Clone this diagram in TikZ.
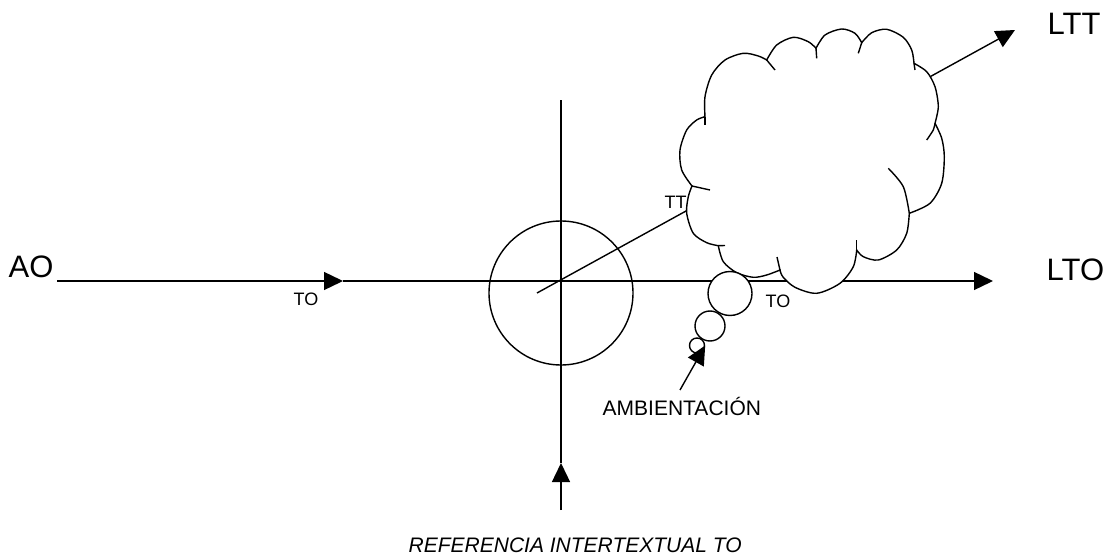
\documentclass[tikz,border=0pt]{standalone}
\usepackage{fontspec}
\setmainfont{Liberation Sans}
\usetikzlibrary{arrows.meta}

\begin{document}
\begin{tikzpicture}[
  x=0.5pt, y=0.5pt, line width=0.7pt,
  tag/.style={anchor=base west, inner sep=0pt, font=\fontsize{9}{11}\selectfont},
  bigtag/.style={tag, font=\fontsize{15.5}{18}\selectfont},
  note/.style={tag, font=\fontsize{10.5}{12}\selectfont},
  ring/.style={circle, draw, fill=white, inner sep=0pt},
  arr/.style={-{Triangle[length=9.5pt, width=9pt]}}
]
\useasboundingbox (0,0) rectangle (1115,-556);
\coordinate (h0) at (57,-281);
\coordinate (h1) at (343,-281);
\coordinate (h2) at (993,-281);
\coordinate (v0) at (561,-510);
\coordinate (v1) at (561,-463);
\coordinate (v2) at (561,-100);
\coordinate (s0) at (537,-293);
\coordinate (s1) at (1015,-30);
\draw[arr] (h0) -- (h1);
\draw[arr] (h1) -- (h2);
\draw[arr] (v0) -- (v1);
\draw (v1) -- (v2);
\draw[arr] (s0) -- (s1);
\node[circle, draw, inner sep=0pt, minimum size=72pt] (hub) at (561,-293) {};
\filldraw[fill=white]
  plot[smooth] coordinates {(705,-116.7) (705,-96.7) (711.7,-75) (725,-60) (743.3,-53.3) (758.3,-56) (766.7,-60)}
  -- plot[smooth] coordinates {(766.7,-60) (776.7,-45) (793.3,-37.3) (808.3,-41.7) (816,-48.3)}
  -- plot[smooth] coordinates {(816,-48.3) (825,-35) (841.7,-29) (855,-33.3) (861.7,-42.7)}
  -- plot[smooth] coordinates {(861.7,-42.7) (871.7,-32.7) (886.7,-29.3) (903.3,-37.3) (911.7,-50) (914,-63.3)}
  -- plot[smooth] coordinates {(914,-63.3) (926.7,-71.7) (935,-86.7) (938.3,-106.7) (935,-123.3)}
  -- plot[smooth] coordinates {(935,-123.3) (941.7,-138.3) (944.3,-156.7) (941.7,-183.3) (930,-203.3) (909.3,-213.3)}
  -- plot[smooth] coordinates {(909.3,-213.3) (906.7,-233.3) (896.7,-250) (878.3,-260) (863.3,-256.7) (856.7,-250)}
  -- plot[smooth] coordinates {(856.7,-250) (853.3,-266.7) (840,-283.3) (816.7,-293.3) (795,-287.3) (783,-277) (780,-270)}
  -- plot[smooth] coordinates {(780,-270) (766.7,-275) (753.3,-277.3) (736.7,-272.7) (723.3,-261.7) (718.3,-245.7)}
  -- plot[smooth] coordinates {(718.3,-245.7) (706.7,-242.7) (693.3,-233.3) (686.7,-213.3) (688.3,-196.7) (692,-186)}
  -- plot[smooth] coordinates {(692,-186) (681.7,-170) (680,-150) (686.7,-130) (696.7,-120) (705,-116.7)}
  -- cycle;
\foreach \p/\q in {{705,-116.7}/{705,-125}, {766.7,-60}/{775,-70}, {816,-48.3}/{816.7,-58.3},
  {861.7,-42.7}/{858.3,-53.3}, {914,-63.3}/{915,-70}, {856.7,-250}/{856.7,-240},
  {780,-270}/{777,-257}, {718.3,-245.7}/{725,-245.5}, {692,-186}/{710,-190}}
  \draw (\p) -- (\q);
\draw plot[smooth] coordinates {(935,-123.3) (933.3,-130) (926.7,-140)};
\draw plot[smooth] coordinates {(888.3,-168.3) (903.3,-186.7) (909.3,-213.3)};
\node[ring, minimum size=22pt] (b1) at (730,-293.5) {};
\node[ring, minimum size=15pt] (b2) at (710,-326) {};
\node[ring, minimum size=7.5pt] (b3) at (697,-345.5) {};
\coordinate (a0) at (680,-390);
\draw[arr] (a0) -- (b3.east);
\node[bigtag] (ao) at (8,-278) {AO};
\node[bigtag] (lto) at (1046,-280) {LTO};
\node[bigtag] (ltt) at (1047,-35) {LTT};
\node[tag] (to1) at (293,-306) {TO};
\node[tag] (to2) at (765,-307) {TO};
\node[tag] (tt) at (664,-208) {TT};
\node[note] (amb) at (602,-415) {AMBIENTACIÓN};
\node[note, font=\fontsize{10.5}{12}\selectfont\itshape] (ref) at (408,-552) {REFERENCIA INTERTEXTUAL TO};
\end{tikzpicture}
\end{document}
